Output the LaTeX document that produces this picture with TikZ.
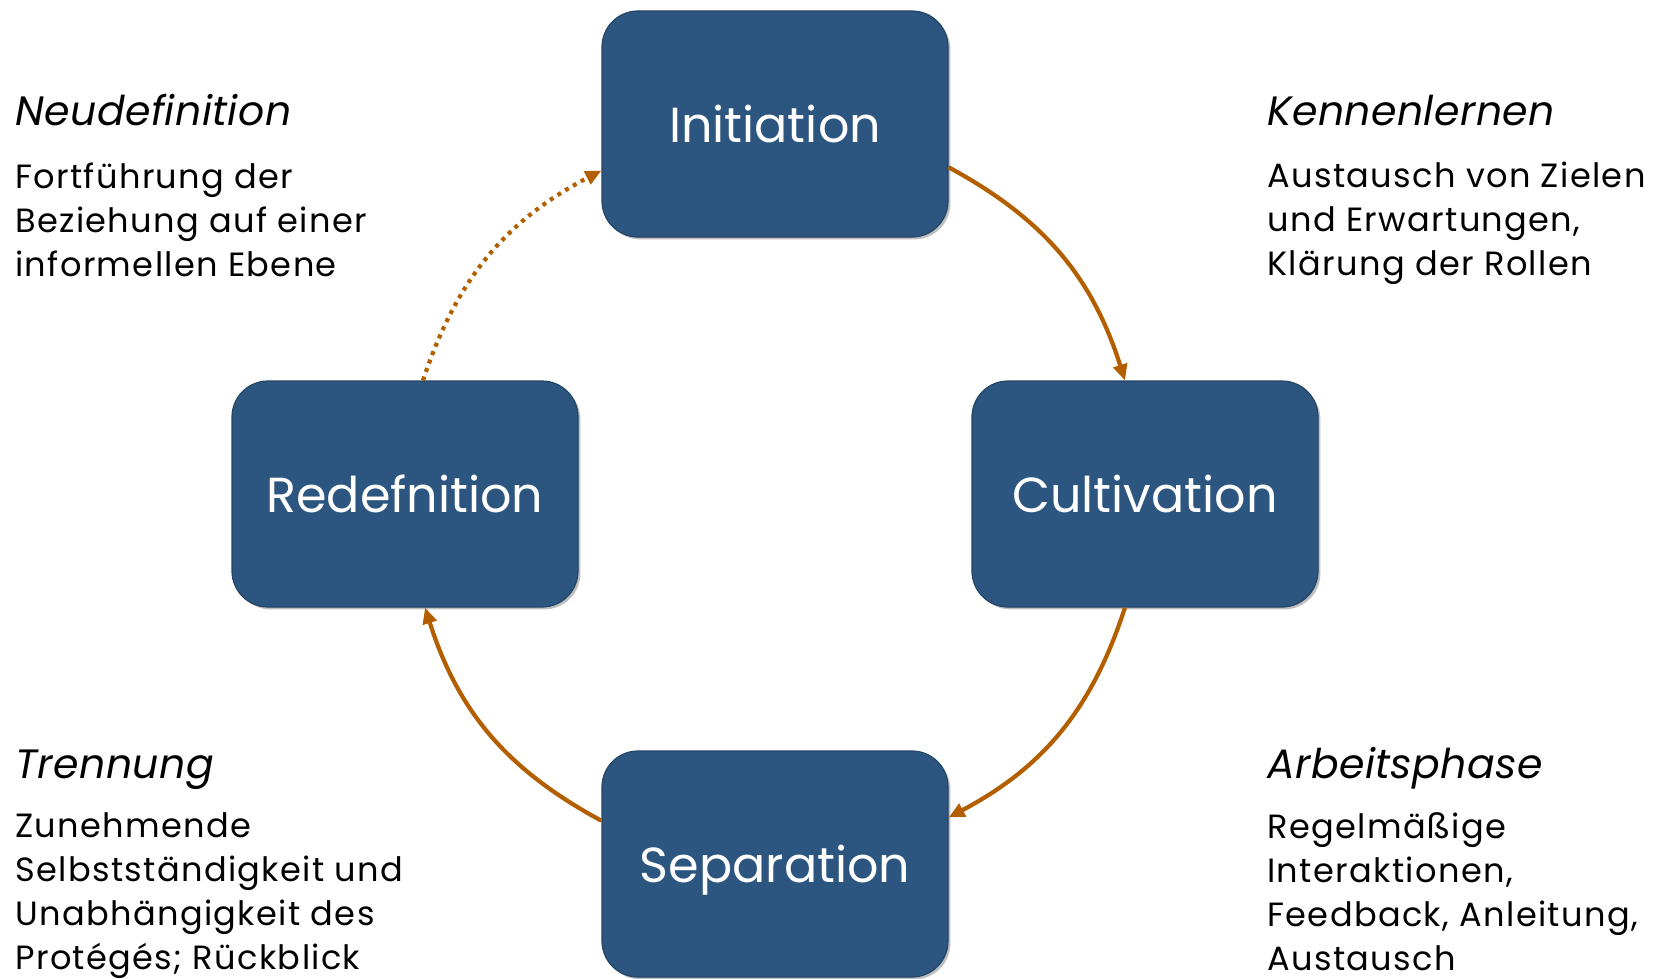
\documentclass[tikz,border=0pt]{standalone}
\usepackage{fontspec}
\setmainfont{Poppins}
\usetikzlibrary{positioning,arrows.meta,shadows}
\definecolor{phasebox}{RGB}{44,86,128}
\definecolor{cyclearrow}{RGB}{179,95,0}

\begin{document}
\begin{tikzpicture}[x=0.5pt,y=-0.5pt,
    phase/.style={rectangle,rounded corners=18pt,draw=phasebox!80!black,line width=0.6pt,fill=phasebox,
      minimum width=173pt,minimum height=113pt,text=white,font=\fontsize{24.6}{30}\selectfont,
      text height=18pt,text depth=0pt,
      drop shadow={shadow xshift=1.2pt,shadow yshift=-1.2pt,opacity=0.25,fill=black}},
    cyc/.style={-{Triangle[length=8pt,width=7pt]},draw=cyclearrow,line width=2.1pt},
    heading/.style={anchor=base west,inner sep=0pt,font=\fontsize{20.5}{24}\selectfont\itshape\addfontfeatures{LetterSpace=1}},
    desc/.style={anchor=north west,inner sep=0pt,align=left,font=\fontsize{16.8}{22}\selectfont\addfontfeatures{LetterSpace=4}}]
    \useasboundingbox (0,0) rectangle (1671,979);

    % Phases of the cycle
    \node[phase] (init) at (775,124) {Initiation};
    \node[phase] (cult) at (1145,494) {Cultivation};
    \node[phase] (sep) at (775,864) {Separation};
    \node[phase] (redef) at (405,494) {Redefnition};

    % Descriptions
    \node[heading] (neu) at (15,126) {Neudefinition};
    \node[desc] (neutext) at (15,162) {Fortführung der\\Beziehung auf einer\\informellen Ebene};
    \node[heading] (kenn) at (1267,126) {Kennenlernen};
    \node[desc] (kenntext) at (1267,162) {Austausch von Zielen\\und Erwartungen,\\Klärung der Rollen};
    \node[heading] (trenn) at (15,778) {Trennung};
    \node[desc] (trenntext) at (15,812) {Zunehmende\\Selbstständigkeit und\\Unabhängigkeit des\\Protégés; Rückblick};
    \node[heading] (arb) at (1267,778) {Arbeitsphase};
    \node[desc] (arbtext) at (1267,812) {Regelmäßige\\Interaktionen,\\Feedback, Anleitung,\\Austausch};

    % Arrows
    \draw[cyc] (init.-14) to[bend left=22] (cult.100);
    \draw[cyc] (cult.-100) to[bend left=22] (sep.15);
    \draw[cyc] (sep.166) to[bend left=22] (redef.-80);
    \draw[cyc,dash pattern=on 2pt off 2.5pt] (redef.81) to[bend left=22] (init.195);
\end{tikzpicture}
\end{document}
